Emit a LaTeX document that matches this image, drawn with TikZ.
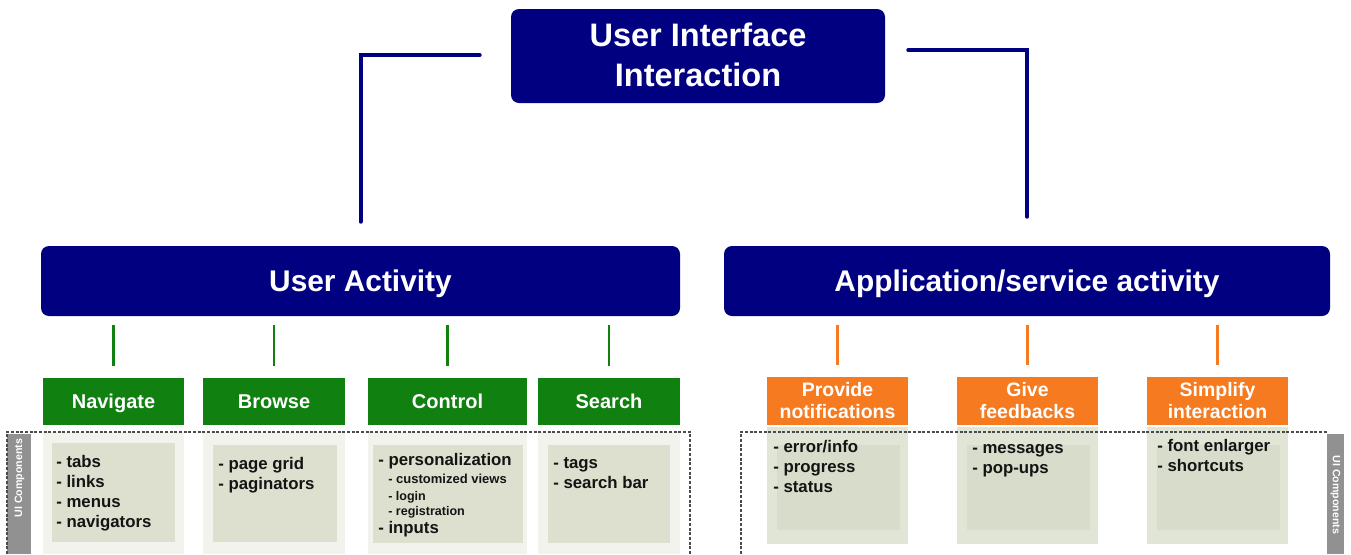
\documentclass[tikz,border=0pt]{standalone}
\usepackage{fontspec}
\setmainfont{Liberation Sans}
\definecolor{navyblue}{RGB}{0,0,128}
\definecolor{catgreen}{RGB}{16,128,16}
\definecolor{catorange}{RGB}{245,122,32}
\definecolor{bargray}{RGB}{145,145,145}
\definecolor{halo}{RGB}{241,243,236}
\definecolor{panel}{RGB}{221,224,206}
\definecolor{panelout}{RGB}{225,229,213}
\definecolor{panelin}{RGB}{216,220,202}
\definecolor{dashgray}{RGB}{75,75,75}
\definecolor{itemtext}{RGB}{20,20,20}
\newcommand{\firstline}{\rule{0pt}{0.75em}}
\tikzset{
  hdr/.style={fill=navyblue, text=white, rounded corners=6pt, inner sep=0pt,
    font=\bfseries\fontsize{22.4pt}{26pt}\selectfont, text height=16pt, text depth=0pt},
  navyline/.style={draw=navyblue, line width=3pt, line cap=round},
  catg/.style={fill=catgreen, text=white, inner sep=0pt, minimum height=35.25pt,
    font=\bfseries\fontsize{15pt}{16.5pt}\selectfont, text height=10.7pt, text depth=0pt},
  cato/.style={fill=catorange, text=white, align=center, inner sep=0pt,
    minimum width=105.75pt, minimum height=36pt,
    font=\bfseries\fontsize{14.6pt}{16.5pt}\selectfont},
  gline/.style={draw=catgreen, line width=2.2pt},
  oline/.style={draw=catorange, line width=2.2pt},
  items/.style={anchor=north west, inner sep=0pt, align=left, text=itemtext,
    font=\bfseries\fontsize{12.6pt}{15pt}\selectfont},
  subitems/.style={items, font=\bfseries\fontsize{9.4pt}{11.25pt}\selectfont},
  uibar/.style={fill=bargray, inner sep=0pt, anchor=north west},
  uilabel/.style={text=white, inner sep=0pt, font=\bfseries\fontsize{8pt}{9pt}\selectfont},
  dashline/.style={draw=dashgray, line width=1pt, dash pattern=on 2.2pt off 1.3pt},
}
\begin{document}
\begin{tikzpicture}[x=0.75pt, y=-0.75pt]
\useasboundingbox (0,0) rectangle (1351,554);

% column backgrounds: user activity
\fill[halo] (43,432) rectangle (184,554);
\fill[halo] (203,432) rectangle (345,554);
\fill[halo] (368,432) rectangle (527,554);
\fill[halo] (538,432) rectangle (680,554);
\fill[panel] (52,443) rectangle (175,542);
\fill[panel] (213,445) rectangle (337,542);
\fill[panel] (373,445) rectangle (523,543);
\fill[panel] (548,445) rectangle (670,543);

% column backgrounds: application/service activity
\fill[panelout] (767,427) rectangle (908,544);
\fill[panelout] (957,427) rectangle (1098,544);
\fill[panelout] (1147,427) rectangle (1288,544);
\fill[panelin] (777,445) rectangle (900,530);
\fill[panelin] (967,445) rectangle (1090,530);
\fill[panelin] (1157,445) rectangle (1280,530);

% UI component groups
\node[uibar, minimum width=18pt, minimum height=90pt] (barL) at (7,434) {};
\node[uibar, minimum width=12.75pt, minimum height=90pt] (barR) at (1327,434) {};
\node[uilabel, rotate=90] (uiL) at (19.5,478) {UI Components};
\node[uilabel, rotate=-90] (uiR) at (1335.5,495) {UI Components};
\draw[dashline] (7,554) -- (7,432) -- (690,432) -- (690,554);
\draw[dashline] (741,554) -- (741,432) -- (1327,432);

% headers
\node[hdr, minimum width=280.5pt, minimum height=70.5pt, align=center,
  text height=, text depth=, font=\bfseries\fontsize{24.4pt}{30pt}\selectfont]
  (top) at (698,56) {User Interface\\Interaction\rule[-2.1pt]{0pt}{2.1pt}};
\node[hdr, minimum width=479.25pt, minimum height=52.5pt] (ua) at (360.5,281) {User Activity};
\node[hdr, minimum width=454.5pt, minimum height=52.5pt] (aa) at (1027,281) {Application/service activity};

\draw[navyline, shorten <=23.25pt, shorten >=18pt] ([yshift=0.75pt]top.west) -| (ua.north);
\draw[navyline, shorten <=17.25pt, shorten >=21.75pt] ([yshift=4.5pt]top.east) -| (aa.north);

% categories
\node[catg, minimum width=105.75pt] (nav) at (113.5,401.5) {Navigate};
\node[catg, minimum width=106.5pt] (brw) at (274,401.5) {Browse};
\node[catg, minimum width=119.25pt] (ctl) at (447.5,401.5) {Control};
\node[catg, minimum width=106.5pt] (srch) at (609,401.5) {Search};
\node[cato] (prov) at (837.5,401) {Provide\\notifications};
\node[cato] (give) at (1027.5,401) {Give\\feedbacks};
\node[cato] (simp) at (1217.5,401) {Simplify\\interaction};

\foreach \n in {nav,brw,ctl,srch}
  \draw[gline, shorten <=9pt, shorten >=6.75pt] (\n.north) -- (\n.north |- ua.south);
\foreach \n in {prov,give,simp}
  \draw[oline, shorten <=9pt, shorten >=6.75pt] (\n.north) -- (\n.north |- aa.south);

% component lists
\node[items] (navl) at (56,454.4) {\firstline- tabs\\- links\\- menus\\- navigators};
\node[items] (brwl) at (218,456.4) {\firstline- page grid\\- paginators};
\node[items] (ctla) at (378,452.5) {\firstline- personalization};
\node[items, font=\bfseries\fontsize{9.75pt}{11.25pt}\selectfont] (ctlb) at (388,473.2) {\firstline- customized views};
\node[subitems] (ctlc) at (388,490.8) {\firstline- login\\- registration};
\node[items] (ctld) at (378,520.5) {\firstline- inputs};
\node[items] (srchl) at (553,455.4) {\firstline- tags\\- search bar};
\node[items] (provl) at (773,439.5) {\firstline- error/info\\- progress\\- status};
\node[items] (givel) at (972,440.5) {\firstline- messages\\- pop-ups};
\node[items] (simpl) at (1157,438.5) {\firstline- font enlarger\\- shortcuts};
\end{tikzpicture}
\end{document}
